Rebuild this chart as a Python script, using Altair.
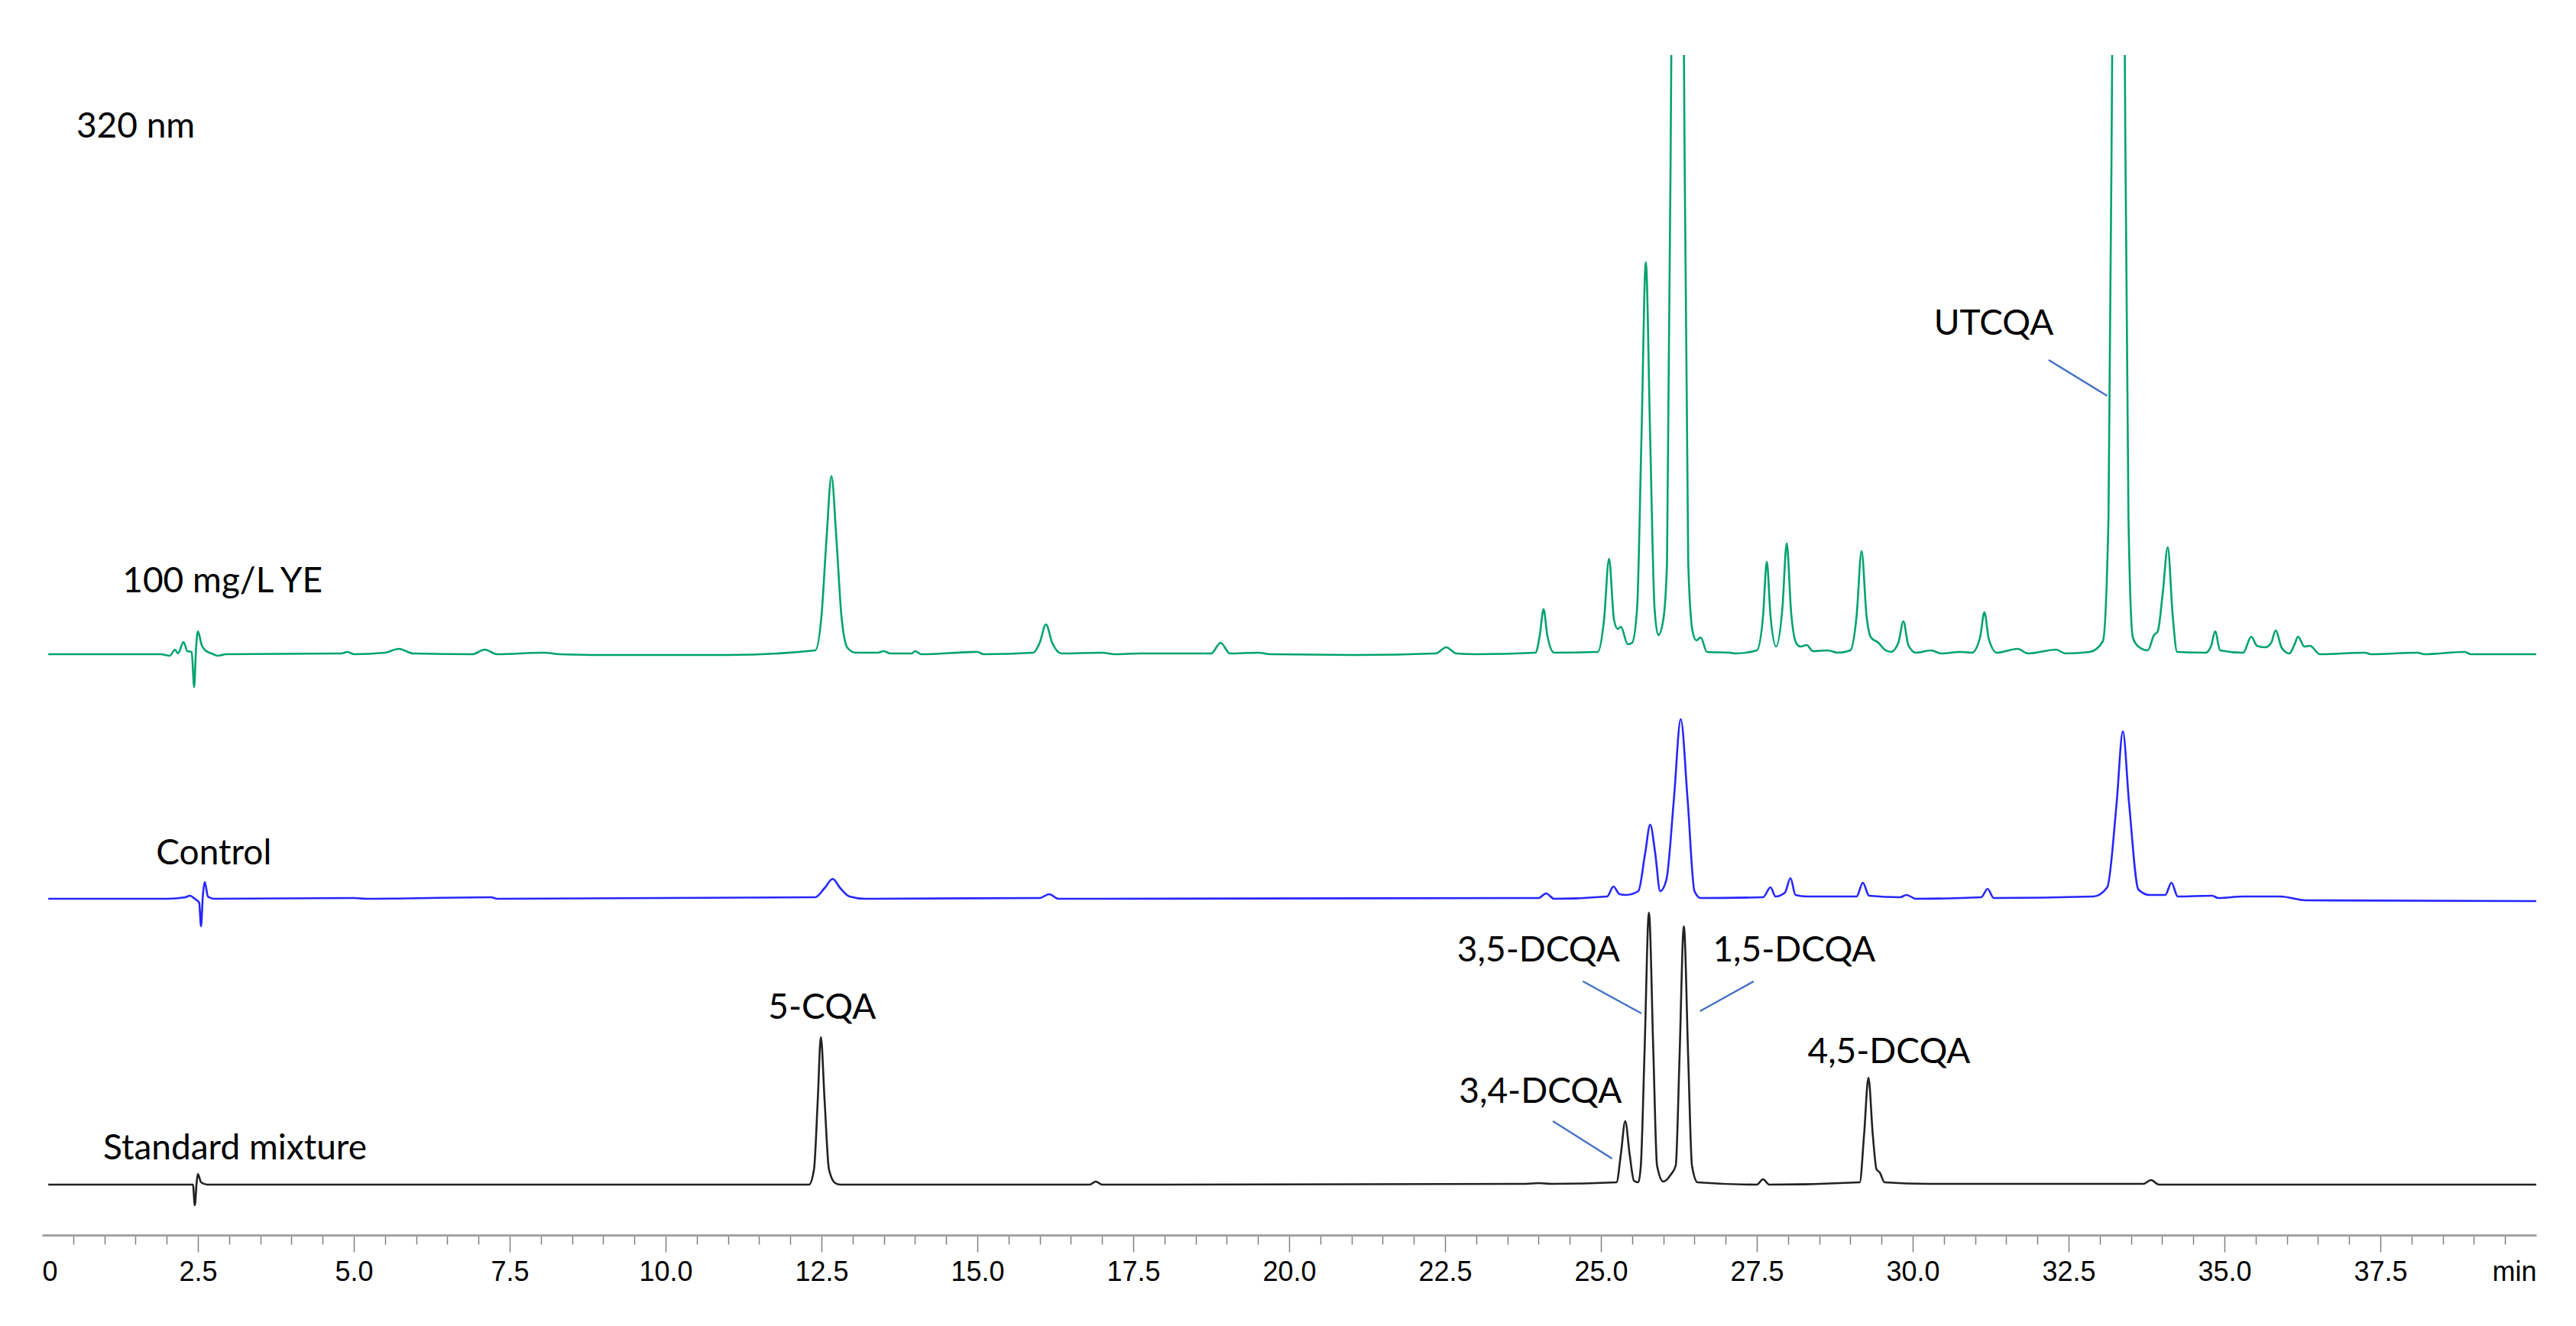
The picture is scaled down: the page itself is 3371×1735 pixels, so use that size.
import altair as alt
import pandas as pd

# HPLC traces at 320 nm: retention time (min) and signal height above each
# run's own baseline (arbitrary units)
ye_time = [0.1, 1.9, 2.05, 2.13, 2.18, 2.27, 2.33, 2.4, 2.44, 2.47, 2.5, 2.56, 2.62, 2.72, 2.82, 2.95,
           4.8, 4.9, 5.0, 5.5, 5.72, 5.95, 6.9, 7.1, 7.3, 8.05, 8.3, 9.0, 11.0,
           12.4, 12.5, 12.58, 12.66, 12.74, 12.82, 12.92, 13.05, 13.4, 13.5, 13.6, 13.95, 14.0, 14.1,
           15.0, 15.1, 15.9, 16.0, 16.1, 16.2, 16.35, 17.0, 17.2, 17.6, 18.75, 18.9, 19.05, 19.5, 19.7,
           21.0, 22.35, 22.52, 22.68, 23.0, 23.95, 24.02, 24.08, 24.14, 24.25,
           24.95, 25.05, 25.13, 25.21, 25.27, 25.32, 25.43, 25.5, 25.58, 25.65, 25.72, 25.79, 25.86,
           25.92, 26.0, 26.06, 26.13, 26.23, 26.33, 26.4, 26.47, 26.53, 26.6, 26.7, 27.07, 27.15,
           27.5, 27.6, 27.66, 27.72, 27.81, 27.91, 27.98, 28.05, 28.13, 28.2, 28.3, 28.4, 28.63, 28.8,
           29.0, 29.1, 29.18, 29.26, 29.33, 29.45, 29.55, 29.65, 29.77, 29.85, 29.93, 30.05, 30.3,
           30.45, 30.77, 30.95, 31.08, 31.15, 31.22, 31.35, 31.68, 31.85, 32.3, 32.45, 32.84, 33.05,
           33.14, 33.2, 33.3, 33.4, 33.46, 33.53, 33.62, 33.77, 33.87, 33.93, 34.01, 34.09, 34.17,
           34.24, 34.7, 34.79, 34.85, 34.93, 35.3, 35.43, 35.52, 35.65, 35.75, 35.82, 35.92, 36.04,
           36.12, 36.18, 36.28, 36.37, 36.53, 37.25, 37.35, 38.1, 38.2, 38.85, 38.95, 40.0]
ye_signal = [0, 0, -2, 6, 1, 16, 4, 3, -43, 8, 30, 12, 5, 1, -2, 0,
             1, 3, 0, 2, 7, 1, 0, 6, 0, 2, 0, -1, -1,
             5, 50, 150, 233, 150, 50, 8, 2, 2, 4, 1, 1, 4, 0,
             3, 0, 2, 15, 39, 15, 1, 2, 0, 1, 1, 15, 1, 2, 0,
             -1, 1, 9, 1, 0, 2, 25, 59, 25, 2,
             3, 45, 125, 45, 33, 36, 13, 15, 60, 283, 513, 283, 60,
             25, 45, 120, 800, 2300, 800, 120, 30, 18, 22, 3, 2, 1,
             5, 50, 121, 50, 10, 60, 145, 55, 15, 10, 12, 4, 5, 2,
             5, 50, 135, 50, 22, 15, 6, 3, 15, 43, 12, 2, 5,
             1, 3, 2, 22, 55, 20, 2, 7, 1, 6, 1, 3, 17,
             180, 800, 2300, 800, 180, 22, 10, 5, 25, 30, 80, 140, 50,
             3, 2, 12, 30, 5, 2, 23, 11, 9, 15, 31, 8, 1,
             12, 23, 10, 11, 0, 2, 0, 2, 0, 3, 0, 0]

control_time = [0.1, 2.0, 2.3, 2.37, 2.45, 2.52, 2.55, 2.58, 2.61, 2.66, 2.75, 5.0, 5.2, 7.2, 7.3,
                12.4, 12.55, 12.68, 12.8, 12.95, 13.2, 16.0, 16.15, 16.3, 24.0, 24.12, 24.25,
                25.1, 25.2, 25.3, 25.4, 25.6, 25.71, 25.79, 25.87, 25.95, 26.05, 26.17, 26.28, 26.39,
                26.5, 26.6, 27.6, 27.72, 27.8, 27.95, 28.04, 28.12, 28.3, 29.1, 29.2, 29.3, 29.8, 29.9,
                30.05, 31.1, 31.2, 31.3, 32.9, 33.12, 33.27, 33.37, 33.47, 33.62, 33.8, 34.05, 34.15,
                34.25, 34.8, 34.9, 35.3, 35.6, 35.9, 36.3, 40.0]
control_signal = [0, 0, 2, 4, 0, -5, -36, 5, 22, 3, 0, 1, 0, 2, 0,
                  2, 14, 26, 14, 3, 0, 1, 6, 0, 1, 7, 0,
                  3, 16, 6, 5, 10, 60, 97, 60, 10, 25, 130, 235, 130,
                  10, 1, 2, 15, 3, 8, 27, 5, 3, 3, 21, 4, 2, 5,
                  0, 2, 13, 1, 3, 15, 125, 219, 125, 12, 5, 5, 21,
                  3, 4, 1, 3, 3, 3, -2, -3]

std_time = [0.1, 2.3, 2.42, 2.45, 2.48, 2.5, 2.55, 2.65, 12.3, 12.38, 12.44, 12.49, 12.55, 12.62,
            12.72, 12.8, 16.8, 16.9, 17.0, 23.8, 24.0, 24.2, 25.25, 25.32, 25.39, 25.46, 25.53, 25.6,
            25.64, 25.7, 25.77, 25.84, 25.9, 26.0, 26.12, 26.2, 26.26, 26.33, 26.4, 26.46, 26.55,
            27.5, 27.6, 27.7, 29.15, 29.22, 29.29, 29.36, 29.42, 29.47, 29.55, 30.25, 33.7, 33.82,
            33.95, 40.0]
std_signal = [0, 0, 0, -27, 3, 14, 3, 0, 0, 20, 110, 193, 110, 20,
              2, 0, 0, 4, 0, 1, 2, 1, 3, 40, 83, 40, 5, 3,
              25, 175, 356, 175, 25, 4, 13, 25, 165, 338, 165, 25, 3,
              0, 7, 0, 3, 65, 140, 65, 20, 16, 3, 1, 1, 6,
              0, 0]

trace_names = ["100 mg/L YE", "Control", "Standard mixture"]
trace_colors = ["#00a36c", "#2626ff", "#222222"]
trace_offset = [760, 440, 66]  # stacks the three runs one above the other

# compound labels and the leader lines pointing at their peaks (plot units)
peak_labels = ["5-CQA", "3,5-DCQA", "1,5-DCQA", "3,4-DCQA", "4,5-DCQA", "UTCQA"]
peak_label_time = [12.51, 24.0, 28.1, 24.03, 29.62, 31.3]
peak_label_y = [283, 358, 358, 173, 225, 1178]

leader_t1 = [24.71, 27.45, 24.23, 32.18]
leader_y1 = [332, 332, 149, 1145]
leader_t2 = [25.65, 26.59, 25.18, 33.12]
leader_y2 = [290, 293, 100, 1098]

run_label_time = [1.29, 1.83, 0.98]
run_label_y = [841, 485, 99]

frames = []
for name, t, s, off in zip(trace_names,
                           [ye_time, control_time, std_time],
                           [ye_signal, control_signal, std_signal],
                           trace_offset):
    frames.append(pd.DataFrame({"trace": name, "time": t, "signal": s, "y": [v + off for v in s]}))
traces_df = pd.concat(frames, ignore_index=True)

labels_df = pd.DataFrame({"label": peak_labels, "time": peak_label_time, "y": peak_label_y})
leaders_df = pd.DataFrame({"t1": leader_t1, "y1": leader_y1, "t2": leader_t2, "y2": leader_y2})
runs_df = pd.DataFrame({"label": trace_names, "time": run_label_time, "y": run_label_y})
wl_df = pd.DataFrame({"label": ["320 nm"], "time": [0.55], "y": [1436]})

x_scale = alt.Scale(domain=[0, 40], nice=False, zero=False)
y_scale = alt.Scale(domain=[0, 1544], nice=False, zero=False)

x_axis = alt.Axis(
    values=[i * 0.5 for i in range(81)],
    labelExpr="datum.value == 40 ? 'min' : datum.value == 0 ? '0' : "
              "datum.value % 2.5 == 0 ? format(datum.value, '.1f') : ''",
    labelAlign={"condition": [{"test": "datum.value == 0", "value": "left"},
                              {"test": "datum.value == 40", "value": "right"}],
                "value": "center"},
    tickSize={"condition": {"test": "datum.value % 2.5 == 0", "value": 22}, "value": 12},
    tickOpacity={"condition": {"test": "datum.value == 0 || datum.value == 40", "value": 0},
                 "value": 1},
    tickColor="#808080",
    tickWidth=1.5,
    domainColor="#a3a3a3",
    domainWidth=3,
    labelFont="Liberation Sans",
    labelFontSize=36,
    labelColor="#000000",
    labelPadding=9,
    labelFlush=False,
    labelOverlap=False,
    grid=False,
    title=None,
)

text_font = "Lato"
text_size = 46

traces = alt.Chart(traces_df).mark_line(
    clip=True, interpolate="monotone", strokeWidth=2.6
).encode(
    x=alt.X("time:Q", scale=x_scale, axis=x_axis),
    y=alt.Y("y:Q", scale=y_scale, axis=None),
    color=alt.Color("trace:N", scale=alt.Scale(domain=trace_names, range=trace_colors), legend=None),
)

leaders = alt.Chart(leaders_df).mark_rule(color="#4472c4", strokeWidth=2.5).encode(
    x="t1:Q", y="y1:Q", x2="t2:Q", y2="y2:Q"
)

peak_text = alt.Chart(labels_df).mark_text(
    font=text_font, fontSize=text_size, align="center", baseline="alphabetic", color="#000000"
).encode(x="time:Q", y="y:Q", text="label:N")

run_text = alt.Chart(runs_df).mark_text(
    font=text_font, fontSize=text_size, align="left", baseline="alphabetic", color="#000000"
).encode(x="time:Q", y="y:Q", text="label:N")

wl_text = alt.Chart(wl_df).mark_text(
    font=text_font, fontSize=text_size, align="left", baseline="alphabetic", color="#000000"
).encode(x="time:Q", y="y:Q", text="label:N")

chart = alt.layer(traces, leaders, peak_text, run_text, wl_text).properties(
    width=3264,
    height=1544,
    padding={"left": 47, "top": 64, "right": 30, "bottom": 90},
    autosize=alt.AutoSizeParams(type="none"),
    background="white",
).configure_view(stroke=None)

chart.save("out.html", embed_options={"renderer": "svg", "actions": False})
